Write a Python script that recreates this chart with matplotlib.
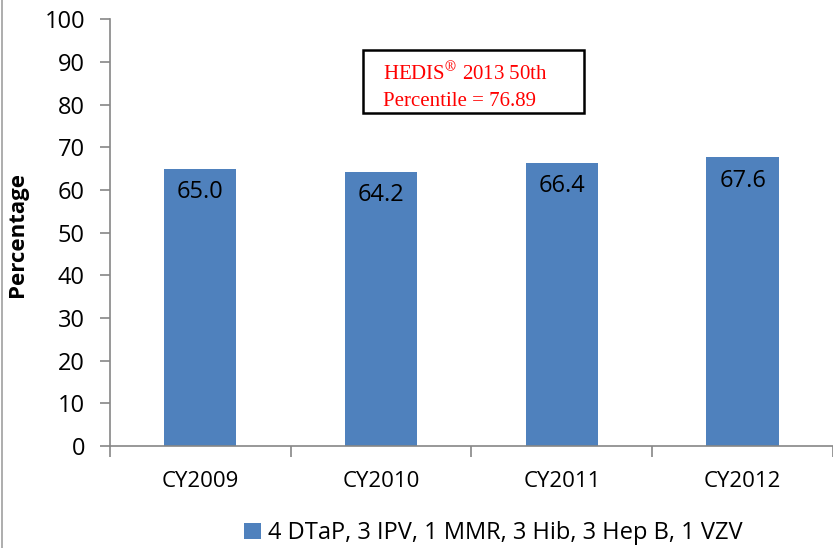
import matplotlib.pyplot as plt
from matplotlib.lines import Line2D
from matplotlib.patches import Rectangle

categories = ['CY2009', 'CY2010', 'CY2011', 'CY2012']
values = [65.0, 64.2, 66.4, 67.6]
series_name = '4 DTaP, 3 IPV, 1 MMR, 3 Hib, 3 Hep B, 1 VZV'
note = 'HEDIS$^{®}$ 2013 50th\nPercentile = 76.89'

plt.rcParams['font.family'] = ['Open Sans', 'DejaVu Sans']
plt.rcParams['mathtext.fontset'] = 'stix'
axis_col = '#868686'
bar_col = '#4F81BD'

fig = plt.figure(figsize=(8.33, 5.48), dpi=100)
ax = fig.add_axes([0.132, 0.186, 0.868, 0.779])

x = range(len(categories))
bars = ax.bar(x, values, width=0.4, color=bar_col, label=series_name, zorder=2)
for xi, v in zip(x, values):
    ax.annotate('%.1f' % v, (xi, v), xytext=(0, -8), textcoords='offset points',
                ha='center', va='top', fontsize=17, color='black')

ax.set_xlim(-0.5, 3.5)
ax.set_ylim(0, 100)
ax.set_yticks(range(0, 101, 10))
ax.set_xticks([-0.5, 0.5, 1.5, 2.5, 3.5])
ax.set_xticklabels([])
ax.set_xticks(list(x), minor=True)
ax.set_xticklabels(categories, minor=True, fontsize=16)
ax.tick_params(axis='x', which='minor', length=0, pad=18)
ax.tick_params(axis='x', which='major', length=8, color=axis_col, width=1.2)
ax.tick_params(axis='y', length=7, color=axis_col, width=1.2, labelsize=17, pad=11)

for s in ['top', 'right']:
    ax.spines[s].set_visible(False)
for s in ['left', 'bottom']:
    ax.spines[s].set_color(axis_col)
    ax.spines[s].set_linewidth(1.2)

ax.set_ylabel('Percentage', fontsize=16, fontweight='bold')
ax.yaxis.set_label_coords(-0.113, 0.495)

ax.add_patch(Rectangle((0.9, 78.0), 1.22, 14.7, facecolor='white', edgecolor='black',
                       linewidth=1.8, zorder=3))
ax.text(1.01, 84.2, note, ha='left', va='center', color='red',
        family='Liberation Serif', fontsize=15, linespacing=1.5, zorder=4)

fig.legend(handles=[bars], labels=[series_name], loc='center', bbox_to_anchor=(0.592, 0.027),
           frameon=False, fontsize=17, handlelength=0.7, handleheight=0.7, handletextpad=0.3)

fig.add_artist(Line2D([0.003, 0.003], [0, 1], color='#a0a0a0', linewidth=1.2, transform=fig.transFigure))

fig.savefig('out.png', dpi=100)
